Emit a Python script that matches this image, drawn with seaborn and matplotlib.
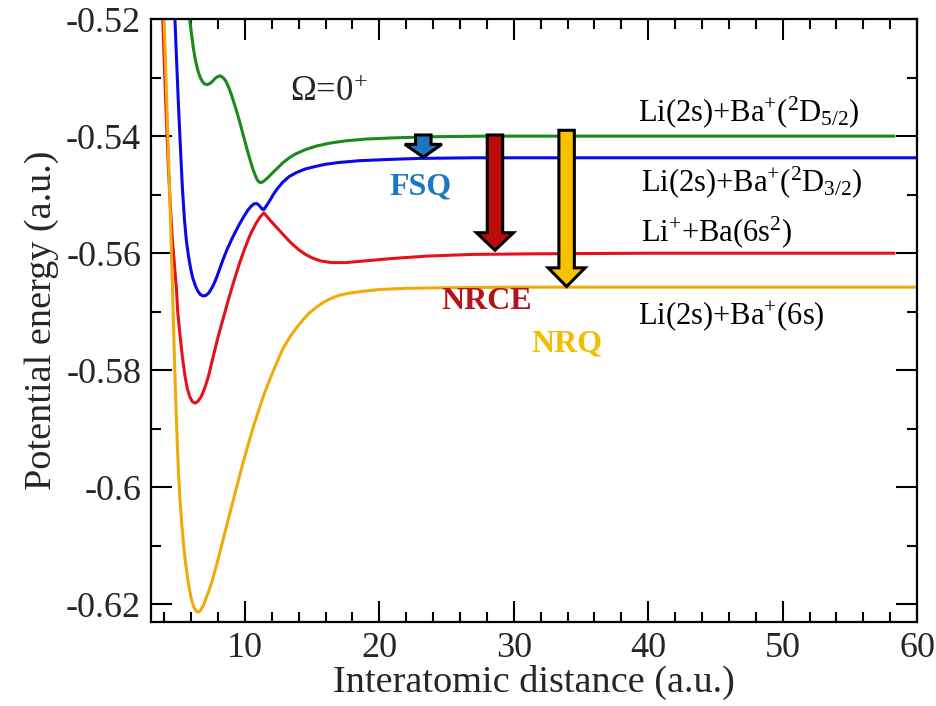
import numpy as np
import pandas as pd
import matplotlib
matplotlib.use("Agg")
import matplotlib.pyplot as plt
import seaborn as sns
from matplotlib.patches import FancyArrow
from matplotlib.ticker import MultipleLocator, FixedLocator, FixedFormatter

# ---------------- data ----------------
green_x = [5.85, 5.95, 6.05, 6.15, 6.28, 6.42, 6.55, 6.7, 6.85, 7.0, 7.2, 7.4, 7.6, 7.8,
           8.0, 8.15, 8.3, 8.45, 8.6, 8.8, 9.0, 9.2, 9.4, 9.6, 9.8, 10.0, 10.2, 10.4,
           10.6, 10.8, 10.95, 11.1, 11.25, 11.4, 11.7, 12.0, 12.4, 12.8, 13.3, 13.8,
           14.5, 15.3, 16.3, 17.5, 19.0, 21.0, 24.0, 28.0, 35.0, 45.0, 58.3]
green_y = [-0.5195, -0.5212, -0.5230, -0.5248, -0.5266, -0.5281, -0.5292, -0.5301,
           -0.5307, -0.5311, -0.5312, -0.5310, -0.5306, -0.5301, -0.5298, -0.5297,
           -0.5299, -0.5302, -0.5307, -0.5317, -0.5330, -0.5344, -0.5359, -0.5375,
           -0.5392, -0.5409, -0.5426, -0.5442, -0.5457, -0.5469, -0.5476, -0.5479,
           -0.5479, -0.5477, -0.5471, -0.5464, -0.5455, -0.5446, -0.5437, -0.5430,
           -0.5423, -0.5417, -0.5412, -0.5408, -0.5405, -0.5403, -0.5401, -0.5400,
           -0.5400, -0.5400, -0.5400]

blue_x = [4.72, 4.79, 4.9, 5.04, 5.2, 5.35, 5.5, 5.65, 5.8, 5.95, 6.1, 6.3, 6.5, 6.7,
          6.9, 7.1, 7.3, 7.5, 7.7, 7.9, 8.1, 8.4, 8.7, 9.0, 9.3, 9.6, 9.9, 10.2, 10.45,
          10.65, 10.85, 11.0, 11.15, 11.3, 11.42, 11.6, 11.85, 12.1, 12.4, 12.8, 13.3,
          13.85, 14.5, 15.2, 16.0, 17.0, 18.5, 20.5, 23.0, 27.0, 35.0, 45.0, 60.0]
blue_y = [-0.5190, -0.5200, -0.5262, -0.5340, -0.5420, -0.5490, -0.5543, -0.5580,
          -0.5605, -0.5625, -0.5641, -0.5655, -0.5665, -0.5671, -0.5673, -0.5672,
          -0.5668, -0.5661, -0.5652, -0.5641, -0.5628, -0.5609, -0.5592, -0.5577,
          -0.5563, -0.5550, -0.5538, -0.5527, -0.5520, -0.5516, -0.5515, -0.5517,
          -0.5521, -0.5525, -0.5525, -0.5519, -0.5510, -0.5500, -0.5490, -0.5479,
          -0.5469, -0.5462, -0.5456, -0.5452, -0.5448, -0.5445, -0.5442, -0.5440,
          -0.5438, -0.5437, -0.5437, -0.5437, -0.5437]

red_x = [3.88, 4.0, 4.1, 4.2, 4.3, 4.45, 4.6, 4.79, 4.9, 5.0, 5.16, 5.35, 5.54, 5.72,
         5.91, 6.1, 6.3, 6.5, 6.75, 7.0, 7.3, 7.6, 8.0, 8.4, 8.8, 9.2, 9.6, 10.0, 10.4,
         10.8, 11.1, 11.4, 11.7, 12.0, 12.4, 12.8, 13.2, 13.6, 14.0, 14.5, 15.0, 15.6,
         16.4, 17.5, 19.0, 21.0, 23.5, 27.0, 32.0, 40.0, 50.0, 58.3]
red_y = [-0.5195, -0.5275, -0.5338, -0.5397, -0.5450, -0.5520, -0.5576, -0.5630,
         -0.5660, -0.5700, -0.5738, -0.5778, -0.5810, -0.5832, -0.5846, -0.5854,
         -0.5856, -0.5853, -0.5845, -0.5831, -0.5809, -0.5780, -0.5743, -0.5710,
         -0.5677, -0.5646, -0.5617, -0.5591, -0.5568, -0.5550, -0.5539, -0.5531,
         -0.5539, -0.5547, -0.5557, -0.5567, -0.5577, -0.5586, -0.5594, -0.5602,
         -0.5608, -0.5613, -0.5616, -0.5616, -0.5613, -0.5609, -0.5605, -0.5602,
         -0.5601, -0.5600, -0.5600, -0.5600]

orange_x = [3.98, 4.1, 4.2, 4.3, 4.42, 4.52, 4.62, 4.73, 4.85, 4.95, 5.04, 5.15, 5.29,
            5.45, 5.6, 5.8, 6.0, 6.2, 6.4, 6.55, 6.7, 6.9, 7.1, 7.3, 7.52, 7.8, 8.1,
            8.39, 8.76, 9.13, 9.5, 9.87, 10.25, 10.62, 11.0, 11.36, 11.74, 12.11, 12.48,
            12.85, 13.35, 13.85, 14.35, 14.84, 15.33, 15.83, 16.32, 17.0, 17.8, 18.8,
            20.0, 22.0, 25.0, 30.0, 40.0, 50.0, 60.0]
orange_y = [-0.5195, -0.5280, -0.5352, -0.5425, -0.5511, -0.5590, -0.5670, -0.5760,
            -0.5850, -0.5915, -0.5966, -0.6015, -0.6060, -0.6102, -0.6133, -0.6165,
            -0.6190, -0.6205, -0.6212, -0.6213, -0.6210, -0.6202, -0.6190, -0.6178,
            -0.6163, -0.6140, -0.6114, -0.6088, -0.6055, -0.6022, -0.5989, -0.5957,
            -0.5926, -0.5897, -0.5870, -0.5845, -0.5822, -0.5801, -0.5781, -0.5762,
            -0.5743, -0.5727, -0.5713, -0.5701, -0.5692, -0.5684, -0.5678, -0.5672,
            -0.5668, -0.5665, -0.5662, -0.5660, -0.5659, -0.5658, -0.5658, -0.5658,
            -0.5658]

state_names = ["D52", "D32", "ion", "6s"]
state_colors = {"D52": "#1b8a1b", "D32": "#0a0ae6", "ion": "#e3121b", "6s": "#f0aa0c"}

state_labels = [r"Li(2s)+Ba$^{+}$($^{2}$D$_{5/2}$)",
                r"Li(2s)+Ba$^{+}$($^{2}$D$_{3/2}$)",
                r"Li$^{+}$+Ba(6s$^{2}$)",
                r"Li(2s)+Ba$^{+}$(6s)"]
state_label_x = [39.26, 39.44, 39.5, 39.26]
state_label_y = [-0.5374, -0.5494, -0.5579, -0.5721]

# vertical arrows and their labels
arrow_names = ["FSQ", "NRCE", "NRQ"]
arrow_x = [23.27, 28.6, 33.93]
arrow_top = [-0.5398, -0.5398, -0.5390]
arrow_tip = [-0.5436, -0.5595, -0.5657]
arrow_head_len = [0.0022, 0.0030, 0.0032]
arrow_fill = ["#1f74c0", "#bb0b0b", "#f8c100"]
arrow_text_x = [20.74, 24.63, 31.33]
arrow_text_y = [-0.5499, -0.5695, -0.5767]
arrow_text_color = ["#1a78bf", "#b5121b", "#f5bd00"]

ytick_vals = [-0.62, -0.60, -0.58, -0.56, -0.54, -0.52]
ytick_labels = ["-0.62", "-0.6", "-0.58", "-0.56", "-0.54", "-0.52"]
xtick_vals = [10, 20, 30, 40, 50, 60]
xtick_labels = ["10", "20", "30", "40", "50", "60"]

# ---------------- build long-form table ----------------
frames = []
for name, xs, ys in zip(state_names,
                        [green_x, blue_x, red_x, orange_x],
                        [green_y, blue_y, red_y, orange_y]):
    frames.append(pd.DataFrame({"R": xs, "E": ys, "state": name}))
df = pd.concat(frames, ignore_index=True)

# ---------------- style ----------------
sns.set_theme(style="ticks")
plt.rcParams["font.family"] = ["Liberation Serif", "DejaVu Serif"]
plt.rcParams["mathtext.fontset"] = "custom"
plt.rcParams["mathtext.rm"] = "Liberation Serif"
plt.rcParams["mathtext.it"] = "Liberation Serif:italic"
plt.rcParams["mathtext.bf"] = "Liberation Serif:bold"
plt.rcParams["axes.unicode_minus"] = False

fig = plt.figure(figsize=(9.37, 7.06), dpi=100)
ax = fig.add_axes([0.161, 0.119, 0.8177, 0.854])

sns.lineplot(data=df, x="R", y="E", hue="state", palette=state_colors,
             hue_order=state_names, sort=False, estimator=None, legend=False,
             linewidth=2.2, ax=ax)
for ln in ax.lines:
    ln.set_solid_joinstyle("round")
    ln.set_solid_capstyle("round")

ax.set_xlim(3, 60)
ax.set_ylim(-0.623, -0.52)

ax.xaxis.set_major_locator(FixedLocator(xtick_vals))
ax.xaxis.set_major_formatter(FixedFormatter(xtick_labels))
ax.xaxis.set_minor_locator(MultipleLocator(2))
ax.yaxis.set_major_locator(FixedLocator(ytick_vals))
ax.yaxis.set_major_formatter(FixedFormatter(ytick_labels))
ax.yaxis.set_minor_locator(MultipleLocator(0.01))

ax.tick_params(which="both", direction="in", top=True, right=True,
               width=1.5, color="black", labelsize=26, pad=7)
ax.tick_params(which="major", length=15)
ax.tick_params(which="minor", length=7.5)
for sp in ax.spines.values():
    sp.set_linewidth(1.6)
    sp.set_color("black")
    sp.set_visible(True)

ax.set_xlabel("Interatomic distance (a.u.)", fontsize=27.5, labelpad=0)
ax.set_ylabel("Potential energy (a.u.)", fontsize=27.5, labelpad=5)

for lab, tx, ty in zip(state_labels, state_label_x, state_label_y):
    ax.text(tx, ty, lab, fontsize=22, va="baseline", ha="left", color="black")

ax.text(13.35, -0.5340, "Ω=0$^{+}$", fontsize=25, va="baseline", ha="left")

for i, nm in enumerate(arrow_names):
    arr = FancyArrow(arrow_x[i], arrow_top[i], 0, arrow_tip[i] - arrow_top[i],
                     width=1.15, head_width=2.75, head_length=arrow_head_len[i],
                     length_includes_head=True, facecolor=arrow_fill[i],
                     edgecolor="black", linewidth=2.2, zorder=5)
    ax.add_patch(arr)
    ax.text(arrow_text_x[i], arrow_text_y[i], nm, fontsize=23, fontweight="bold",
            color=arrow_text_color[i], va="baseline", ha="left", zorder=6)

fig.savefig("out.png", dpi=100)
